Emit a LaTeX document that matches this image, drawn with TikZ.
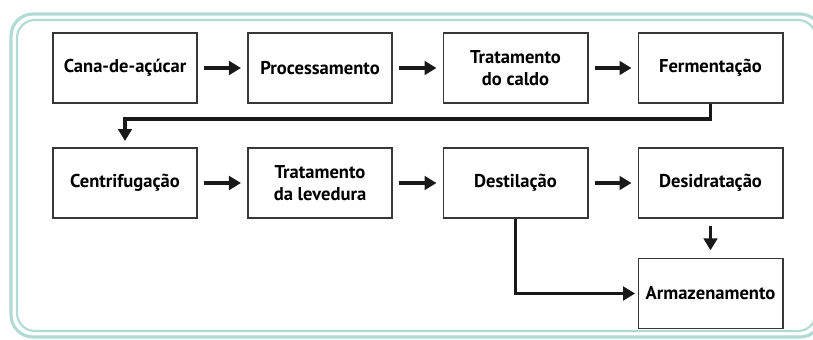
\documentclass[tikz,border=0pt]{standalone}
\usepackage{fontspec}
\setmainfont{PT Sans}
\usetikzlibrary{arrows.meta}
\definecolor{moldura}{RGB}{176,218,212}
\definecolor{caixa}{RGB}{55,55,55}

\begin{document}
\begin{tikzpicture}[x=0.025cm, y=-0.025cm,
	etapa/.style={draw=caixa, line width=1.4pt, minimum width=3.6cm, minimum height=1.75cm, inner sep=0pt, align=center, font=\bfseries\fontsize{13.2}{15.5}\selectfont},
	seta/.style={draw=black!90, line width=2.8pt, -{Triangle[length=0.3cm, width=0.34cm]}}]
	\useasboundingbox (0,0) rectangle (813,340);
	%% moldura
	\draw[moldura, line width=2.2pt, rounded corners=0.55cm] (11,14) rectangle (822,337);
	\draw[moldura, line width=1.5pt, rounded corners=0.45cm] (17,20) rectangle (816,331);
	%% primeira linha
	\node[etapa] (cana) at (125,68) {Cana-de-açúcar};
	\node[etapa] (proc) at (320,68) {Processamento};
	\node[etapa] (trat) at (515.5,68) {Tratamento\\do caldo};
	\node[etapa] (ferm) at (710.5,68) {Fermentação};
	%% segunda linha
	\node[etapa] (centr) at (125,183) {Centrifugação};
	\node[etapa] (lev) at (320,183) {Tratamento\\da levedura};
	\node[etapa] (dest) at (515.5,183) {Destilação};
	\node[etapa] (desid) at (710.5,183) {Desidratação};
	\node[etapa] (arm) at (710.5,293.5) {Armazenamento};
	%% setas
	\draw[seta, shorten <=0.15cm, shorten >=0.15cm] (cana) -- (proc);
	\draw[seta, shorten <=0.15cm, shorten >=0.15cm] (proc) -- (trat);
	\draw[seta, shorten <=0.15cm, shorten >=0.15cm] (trat) -- (ferm);
	\draw[seta, shorten >=0.15cm] (ferm.south) -- ++(0,15) -| (centr.north);
	\draw[seta, shorten <=0.15cm, shorten >=0.15cm] (centr) -- (lev);
	\draw[seta, shorten <=0.15cm, shorten >=0.15cm] (lev) -- (dest);
	\draw[seta, shorten <=0.15cm, shorten >=0.15cm] (dest) -- (desid);
	\draw[seta, shorten <=0.18cm, shorten >=0.18cm] (desid) -- (arm);
	\draw[seta, shorten >=0.06cm] (dest.south) |- (arm.west);
\end{tikzpicture}
\end{document}
